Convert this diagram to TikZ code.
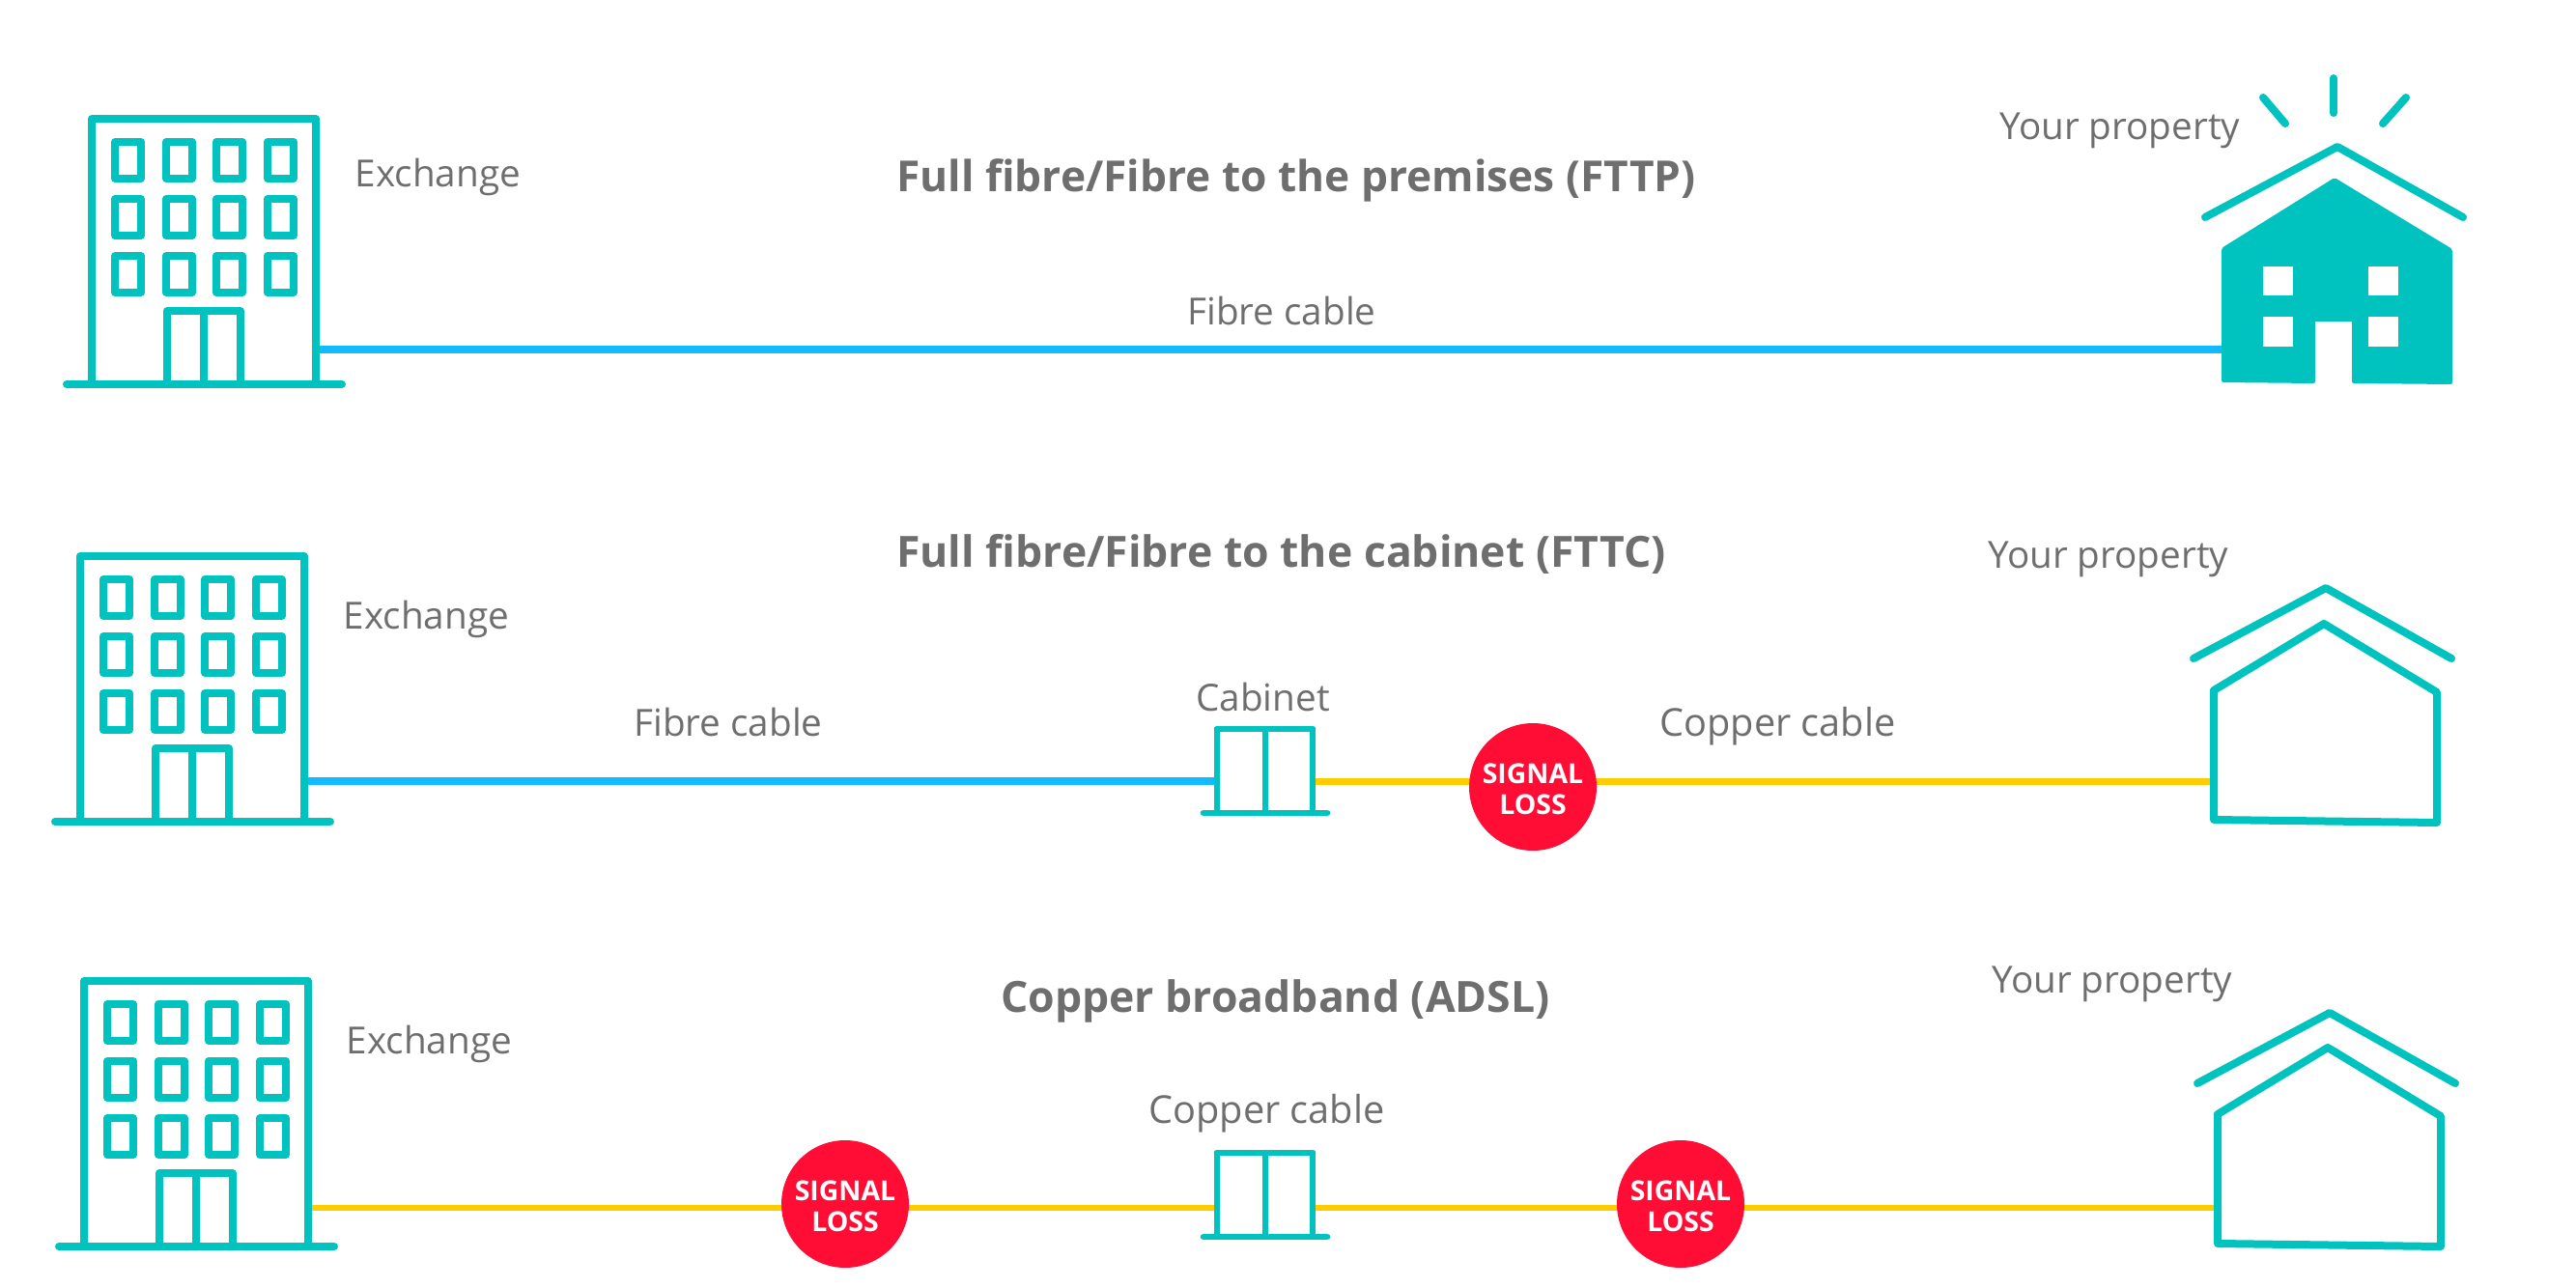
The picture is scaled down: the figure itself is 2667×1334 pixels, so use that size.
\documentclass[tikz,border=0pt]{standalone}
\usepackage{fontspec}
\setmainfont{Open Sans}
\definecolor{teal1}{RGB}{0,194,191}
\definecolor{blue1}{RGB}{20,186,255}
\definecolor{yellow1}{RGB}{255,204,0}
\definecolor{red1}{RGB}{255,13,53}
\definecolor{gray1}{RGB}{110,110,110}
\tikzset{
  icon/.style={draw=teal1,line width=6pt,line join=round,line cap=round},
  thinicon/.style={draw=teal1,line width=4.1pt,line join=round,line cap=round},
  fibre/.style={draw=blue1,line width=6pt},
  copper/.style={draw=yellow1,line width=5pt},
  label/.style={text=gray1,anchor=base west,inner sep=0pt,font=\fontsize{29}{32}\selectfont},
  widelabel/.style={label,font=\fontsize{29.8}{32}\selectfont},
  heading/.style={text=gray1,anchor=base west,inner sep=0pt,font=\fontsize{33.4}{36}\selectfont\bfseries},
  loss/.style={circle,fill=red1,minimum size=99pt,inner sep=0pt},
  losstext/.style={text=white,align=center,inner sep=0pt,font=\fontsize{21.3}{24}\selectfont\bfseries},
}
\newcommand{\building}[2]{%
  \begin{scope}[shift={(#1,#2)}]
    \draw[icon] (0,0) rectangle (232,275);
    \draw[icon] (-26,275) -- (259,275);
    \foreach \cx in {24,77,129,182}
      \foreach \cy in {24,83,142}
        \draw[icon] (\cx,\cy) rectangle ++(27,38);
    \draw[icon] (78,275) -- (78,199) -- (154,199) -- (154,275);
    \draw[icon] (116,199) -- (116,275);
  \end{scope}}
\newcommand{\cabinet}[2]{%
  \begin{scope}[shift={(#1,#2)}]
    \draw[thinicon] (0,87) -- (0,0) -- (99,0) -- (99,87);
    \draw[thinicon] (50,0) -- (50,87);
    \draw[thinicon,line width=5pt] (-14,87) -- (114,87);
    \draw[thinicon,line width=5pt] (0,0) -- (99,0);
  \end{scope}}
\newcommand{\houseroof}[2]{%
  \begin{scope}[shift={(#1,#2)}]
    \draw[icon] (0,0) -- (137,-73) -- (267,0);
  \end{scope}}
\newcommand{\houseoutline}[2]{%
  \begin{scope}[shift={(#1,#2)}]
    \draw[icon] (0,0) -- (114,-69) -- (231,2) -- (231,137) -- (0,134) -- cycle;
  \end{scope}}
\begin{document}
\begin{tikzpicture}[x=0.75pt,y=-0.75pt]
\useasboundingbox (0,0) rectangle (2667,1334);
% anchors
\coordinate (ex1) at (327,362);
\coordinate (hs1) at (2302,362);
\coordinate (ex2) at (316,809);
\coordinate (cab2l) at (1260,809);
\coordinate (cab2r) at (1359,809.5);
\coordinate (hs2) at (2292,809.5);
\coordinate (ex3) at (319,1251);
\coordinate (cab3l) at (1260,1251);
\coordinate (cab3r) at (1360,1251);
\coordinate (hs3) at (2296,1251);
% connectors
\draw[fibre] (ex1) -- (hs1);
\draw[fibre] (ex2) -- (cab2l);
\draw[copper] (cab2r) -- (hs2);
\draw[copper] (ex3) -- (cab3l);
\draw[copper] (cab3r) -- (hs3);
% row 1
\building{95}{123}
\houseroof{2283}{225}
\draw[icon] (2343,101) -- (2366,128);
\draw[icon] (2416,81) -- (2416,117);
\draw[icon] (2491,101) -- (2467,128);
\fill[teal1,rounded corners=1.5pt]
  (2300,257) -- (2417,184) -- (2539,258) -- (2539,398) -- (2435,397) -- (2435,333)
  -- (2397,333) -- (2397,397) -- (2300,396) -- cycle;
\fill[white] (2343,276) rectangle (2374,306);
\fill[white] (2452,276) rectangle (2483,306);
\fill[white] (2343,328) rectangle (2374,359);
\fill[white] (2452,328) rectangle (2483,359);
\fill[white] (2397,333) rectangle (2435,399);
% row 2
\building{83}{576}
\cabinet{1260}{755}
\houseroof{2271}{682}
\houseoutline{2292}{715}
\node[loss] (sl1) at (1587,815) {};
\node[losstext] (st1) at ([yshift=-2pt]sl1.center) {SIGNAL\\LOSS};
% row 3
\building{87}{1016}
\cabinet{1260}{1194}
\houseroof{2275}{1122}
\houseoutline{2296}{1154}
\node[loss] (sl2) at (875,1247) {};
\node[losstext] (st2) at ([yshift=-2pt]sl2.center) {SIGNAL\\LOSS};
\node[loss] (sl3) at (1740,1247) {};
\node[losstext] (st3) at ([yshift=-2pt]sl3.center) {SIGNAL\\LOSS};
% text
\node[heading,font=\fontsize{33.2}{36}\selectfont\bfseries] (t1) at (928,199) {Full fibre/Fibre to the premises (FTTP)};
\node[heading] (t2) at (928,587) {Full fibre/Fibre to the cabinet (FTTC)};
\node[heading] (t3) at (1036,1048) {Copper broadband (ADSL)};
\node[label] (e1) at (367.5,194) {Exchange};
\node[label] (e2) at (355.5,651) {Exchange};
\node[label] (e3) at (358.5,1091) {Exchange};
\node[label] (p1) at (2070,145) {Your property};
\node[label] (p2) at (2058,588) {Your property};
\node[label] (p3) at (2062,1028) {Your property};
\node[label] (f1) at (1229,336) {Fibre cable};
\node[label] (f2) at (656,762) {Fibre cable};
\node[widelabel] (c2) at (1718,762) {Copper cable};
\node[widelabel] (c3) at (1189,1163) {Copper cable};
\node[label] (cb2) at (1238,736) {Cabinet};
\end{tikzpicture}
\end{document}
